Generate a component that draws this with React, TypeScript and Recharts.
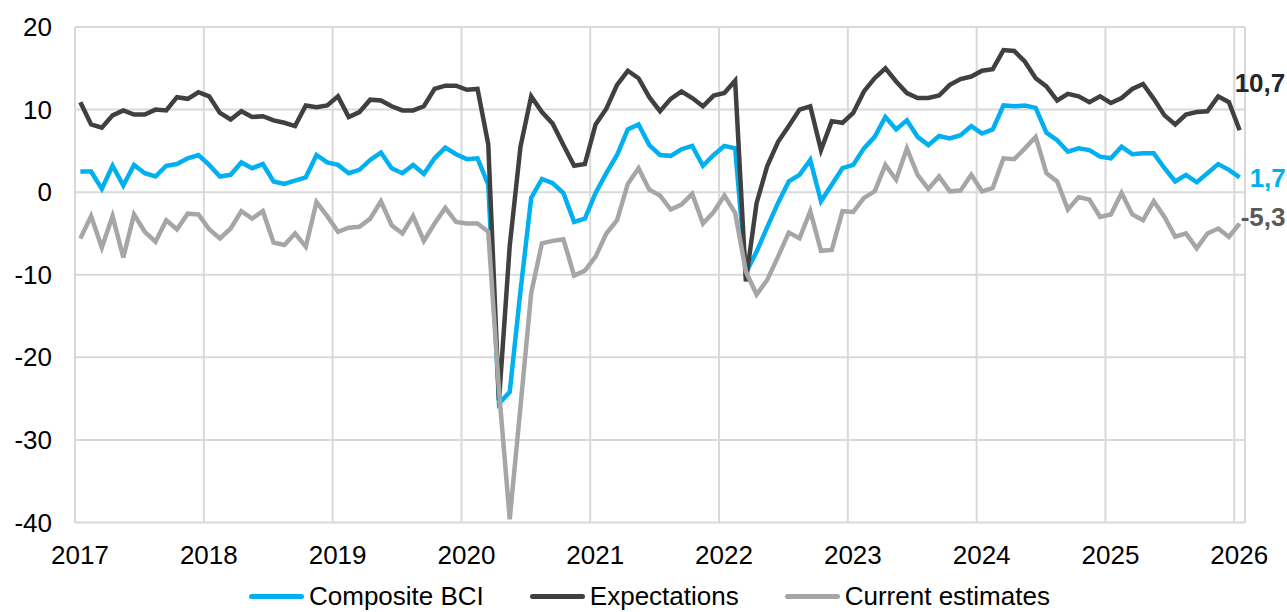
import { LineChart, Line, XAxis, YAxis, CartesianGrid } from "recharts";

// monthly, Jan 2017 .. Jan 2026
const composite = [
  2.5, 2.5, 0.4, 3.2, 0.8, 3.3, 2.3, 1.9, 3.2, 3.4, 4.1, 4.5,
  3.3, 1.9, 2.1, 3.6, 2.9, 3.4, 1.3, 1.0, 1.4, 1.8, 4.5, 3.6,
  3.3, 2.3, 2.7, 3.9, 4.8, 2.9, 2.3, 3.3, 2.2, 4.1, 5.4, 4.6,
  4.0, 4.1, 0.9, -25.6, -24.2, -12.0, -0.7, 1.6, 1.1, -0.1, -3.6, -3.2,
  -0.1, 2.3, 4.5, 7.6, 8.2, 5.7, 4.5, 4.4, 5.2, 5.6, 3.2, 4.5,
  5.6, 5.3, -9.8, -7.2, -4.2, -1.3, 1.3, 2.1, 3.9, -1.1, 0.9, 2.9,
  3.3, 5.3, 6.7, 9.1, 7.6, 8.7, 6.7, 5.7, 6.8, 6.5, 6.9, 8.0,
  7.1, 7.6, 10.5, 10.4, 10.5, 10.2, 7.2, 6.3, 4.9, 5.3, 5.1, 4.3,
  4.1, 5.5, 4.6, 4.7, 4.7, 2.9, 1.3, 2.1, 1.2, 2.3, 3.4, 2.7,
  1.8,
];

const expectations = [
  10.9, 8.2, 7.8, 9.3, 9.9, 9.4, 9.4, 10.0, 9.9, 11.5, 11.3, 12.1,
  11.6, 9.6, 8.8, 9.8, 9.1, 9.2, 8.7, 8.4, 8.0, 10.5, 10.3, 10.5,
  11.6, 9.1, 9.7, 11.2, 11.1, 10.4, 9.9, 9.9, 10.4, 12.5, 12.9, 12.9,
  12.4, 12.5, 5.8, -25.2, -6.5, 5.5, 11.6, 9.7, 8.3, 5.7, 3.2, 3.4,
  8.2, 10.1, 13.0, 14.7, 13.8, 11.5, 9.8, 11.3, 12.2, 11.4, 10.4, 11.7,
  12.0, 13.5, -10.8, -1.3, 3.2, 6.1, 8.0, 10.0, 10.4, 5.1, 8.6, 8.4,
  9.6, 12.2, 13.8, 15.0, 13.4, 12.0, 11.4, 11.4, 11.7, 13.0, 13.7, 14.0,
  14.7, 14.9, 17.2, 17.1, 15.8, 13.8, 12.8, 11.1, 11.9, 11.6, 10.9, 11.6,
  10.8, 11.4, 12.5, 13.1, 11.3, 9.3, 8.2, 9.4, 9.7, 9.8, 11.6, 10.9,
  7.5,
];

const current = [
  -5.6, -2.9, -6.7, -2.9, -7.9, -2.7, -4.8, -6.0, -3.4, -4.5, -2.6, -2.7,
  -4.5, -5.6, -4.4, -2.3, -3.2, -2.3, -6.1, -6.4, -5.0, -6.6, -1.2, -2.9,
  -4.8, -4.3, -4.2, -3.2, -1.1, -4.0, -5.0, -2.9, -5.9, -3.8, -1.9, -3.6,
  -3.8, -3.8, -4.8, -24.0, -39.6, -26.0, -12.2, -6.2, -5.9, -5.7, -10.1, -9.5,
  -7.8, -5.0, -3.4, 1.0, 2.9, 0.3, -0.4, -2.1, -1.5, -0.2, -3.8, -2.4,
  -0.4, -2.5, -9.6, -12.4, -10.6, -7.8, -4.9, -5.6, -2.3, -7.1, -7.0, -2.3,
  -2.4, -0.7, 0.1, 3.3, 1.5, 5.3, 2.1, 0.4, 1.9, 0.1, 0.2, 2.1,
  0.1, 0.5, 4.1, 4.0, 5.3, 6.7, 2.3, 1.3, -2.1, -0.6, -0.9, -3.0,
  -2.7, -0.1, -2.7, -3.4, -1.1, -3.0, -5.4, -5.0, -6.8, -5.0, -4.4, -5.4,
  -3.8,
];

const yearLabels = ["2017", "2018", "2019", "2020", "2021", "2022", "2023", "2024", "2025", "2026"];
const yTicks = [-40, -30, -20, -10, 0, 10, 20];

const seriesNames = ["Composite BCI", "Expectations", "Current estimates"];
const endValues = ["1,7", "10,7", "-5,3"];

const FONT = "'Liberation Sans', Arial, sans-serif";
const BLUE = "#00B0F0";
const DARK = "#404040";
const GREY = "#A6A6A6";

const data = composite.map((v, i) => ({
  x: i + 0.5,
  composite: v,
  expectations: expectations[i],
  current: current[i],
}));

const N = data.length;

// label drawn only at the last point of a series
const endLabel = (text: string, color: string, dx: number, dy: number) => (p: any) => {
  if (p.index !== N - 1) return null;
  return (
    <text
      x={p.x + dx}
      y={p.y + dy}
      dy="0.35em"
      fill={color}
      fontSize={26}
      fontWeight="bold"
      fontFamily={FONT}
    >
      {text}
    </text>
  );
};

const XTick = ({ x, y, payload }: any) => (
  <text x={x + 5} y={y + 41} textAnchor="middle" fill="#000" fontSize={26} fontFamily={FONT}>
    {yearLabels[Math.round(payload.value / 12)]}
  </text>
);

const YTick = ({ x, y, payload }: any) => (
  <text x={x - 23} y={y} dy="0.35em" textAnchor="end" fill="#000" fontSize={26} fontFamily={FONT}>
    {payload.value}
  </text>
);

const legendColors = [BLUE, DARK, GREY];

export default function App() {
  return (
    <div style={{ position: "absolute", left: 0, top: 0, width: 1287, height: 612, overflow: "hidden", background: "#fff" }}>
      <LineChart
        width={1287}
        height={612}
        data={data}
        margin={{ top: 27, right: 42, left: 0, bottom: 50 }}
      >
        <CartesianGrid stroke="#D9D9D9" strokeWidth={2} />
        <XAxis
          dataKey="x"
          type="number"
          domain={[0, 109]}
          ticks={yearLabels.map((_, i) => i * 12)}
          tick={<XTick />}
          axisLine={false}
          tickLine={false}
          tickSize={0}
          tickMargin={0}
          height={39.5}
        />
        <YAxis
          domain={[-40, 20]}
          ticks={yTicks}
          tick={<YTick />}
          axisLine={false}
          tickLine={false}
          tickSize={0}
          tickMargin={0}
          width={75}
        />
        <Line
          type="linear"
          dataKey="composite"
          stroke={BLUE}
          strokeWidth={4.5}
          dot={false}
          isAnimationActive={false}
          label={endLabel(endValues[0], BLUE, 10, 1)}
        />
        <Line
          type="linear"
          dataKey="expectations"
          stroke={DARK}
          strokeWidth={4.5}
          dot={false}
          isAnimationActive={false}
          label={endLabel(endValues[1], "#262626", -5, -47)}
        />
        <Line
          type="linear"
          dataKey="current"
          stroke={GREY}
          strokeWidth={4.5}
          dot={false}
          isAnimationActive={false}
          label={endLabel(endValues[2], "#595959", 1, -7)}
        />
      </LineChart>
      {/* legend sits at the very bottom edge, as in the source */}
      <div
        style={{
          position: "absolute",
          top: 583,
          left: 249,
          display: "flex",
          gap: 46,
          fontFamily: FONT,
          fontSize: 26,
          lineHeight: "26px",
          color: "#000",
          whiteSpace: "nowrap",
        }}
      >
        {seriesNames.map((name, i) => (
          <div key={name} style={{ display: "flex", alignItems: "center" }}>
            <span
              style={{
                display: "inline-block",
                width: 55,
                height: 5,
                borderRadius: 3,
                background: legendColors[i],
                marginRight: 5,
              }}
            />
            <span>{name}</span>
          </div>
        ))}
      </div>
    </div>
  );
}
